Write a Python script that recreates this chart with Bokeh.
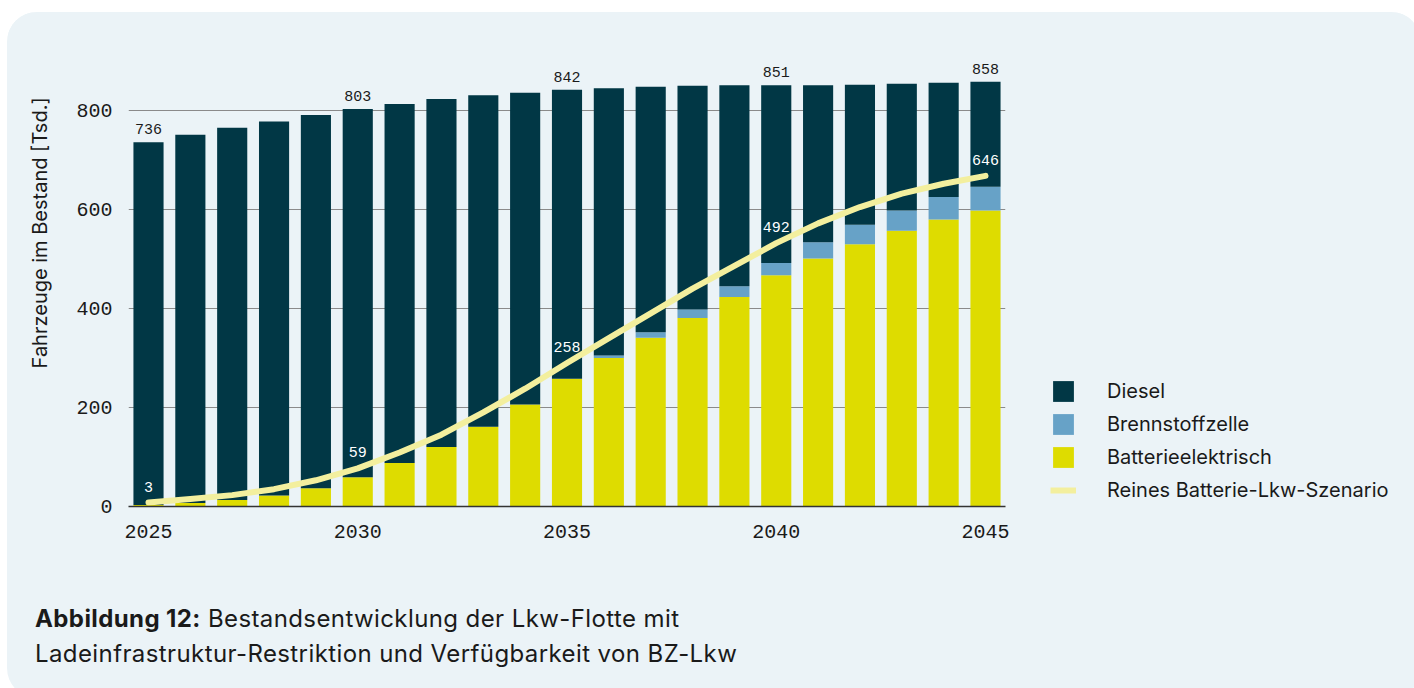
from bokeh.plotting import figure
from bokeh.models import (ColumnDataSource, FixedTicker, Legend, LegendItem, Div)
from bokeh.layouts import column, row
from bokeh.core.properties import value
from bokeh.embed import file_html
from bokeh.resources import INLINE

# ---------------- data ----------------
years = list(range(2025, 2046))
total = [736, 751, 765, 778, 791, 803, 813, 823, 831, 836, 842,
         845, 848, 850, 851, 851, 851, 852, 854, 856, 858]
battery = [3, 7, 13, 22, 37, 59, 88, 120, 161, 206, 258,
           300, 341, 381, 423, 467, 501, 530, 557, 580, 598]
fuelcell = [0, 0, 0, 0, 0, 0, 0, 0, 0, 0, 0,
            5, 11, 17, 22, 25, 33, 39, 41, 45, 48]
pure_battery = [8, 15, 23, 35, 53, 77, 109, 145, 190, 238, 290,
                340, 390, 440, 486, 532, 572, 605, 632, 652, 668]
label_years = [2025, 2030, 2035, 2040, 2045]
y_ticks = [0, 200, 400, 600, 800]

series_names = ["Batterieelektrisch", "Brennstoffzelle", "Diesel"]
line_name = "Reines Batterie-Lkw-Szenario"
y_axis_title = "Fahrzeuge im Bestand [Tsd.]"
caption_bold = "Abbildung 12:"
caption_line1 = "Bestandsentwicklung der Lkw-Flotte mit"
caption_line2 = "Ladeinfrastruktur-Restriktion und Verfügbarkeit von BZ-Lkw"

# ---------------- styles ----------------
BG = "#EBF3F7"
C_DIESEL = "#013745"
C_FC = "#67A2C7"
C_BAT = "#DEDC00"
C_LINE = "#F3EF9E"
TXT = "#1a1a1a"
SANS = "Inter"
MONO = "Liberation Mono"
COLORS = {"Batterieelektrisch": C_BAT, "Brennstoffzelle": C_FC, "Diesel": C_DIESEL}

diesel = [t - b - f for t, b, f in zip(total, battery, fuelcell)]
src = ColumnDataSource(dict(year=years, Batterieelektrisch=battery,
                            Brennstoffzelle=fuelcell, Diesel=diesel,
                            line=pure_battery))

# ---------------- main chart ----------------
p = figure(frame_width=877, frame_height=446,
           x_range=(2024.522, 2045.478), y_range=(0, 901),
           output_backend="svg", toolbar_location=None,
           min_border_left=121, min_border_right=30, min_border_top=48,
           min_border_bottom=66)
p.background_fill_color = BG
p.border_fill_color = BG
p.outline_line_color = None

p.vbar_stack(series_names, x="year", width=0.72, source=src,
             color=[COLORS[n] for n in series_names], line_color=None)
p.line("year", "line", source=src, line_color=C_LINE, line_width=6,
       line_cap="round", line_join="round")

# labels: totals (black) and alternative drives (white)
idx = [years.index(y) for y in label_years]
tot_src = ColumnDataSource(dict(x=label_years, y=[total[i] for i in idx],
                                t=[str(total[i]) for i in idx]))
p.text("x", "y", text="t", source=tot_src, text_align="center",
       text_baseline="alphabetic", y_offset=-13, text_color=TXT,
       text_font=value(MONO), text_font_size="15px")
alt_src = ColumnDataSource(dict(x=label_years, y=[pure_battery[i] for i in idx],
                                t=[str(battery[i] + fuelcell[i]) for i in idx]))
p.text("x", "y", text="t", source=alt_src, text_align="center",
       text_baseline="alphabetic", y_offset=-16, text_color="white",
       text_font=value(MONO), text_font_size="15px")

# axes
p.xaxis.ticker = FixedTicker(ticks=label_years)
p.yaxis.ticker = FixedTicker(ticks=y_ticks)
p.xgrid.grid_line_color = None
p.ygrid.grid_line_color = "#8a8a8a"
p.ygrid.grid_line_width = 1
for ax in (p.xaxis, p.yaxis):
    ax.major_tick_line_color = None
    ax.minor_tick_line_color = None
    ax.major_label_text_font = MONO
    ax.major_label_text_font_size = "20px"
    ax.major_label_text_color = TXT
p.xaxis.axis_line_color = "#333333"
p.xaxis.axis_line_width = 1.5
p.xaxis.major_label_standoff = 12
p.yaxis.axis_line_color = None
p.yaxis.major_label_standoff = 10
# leading non-breaking spaces lift the visible title like in the original
p.yaxis.axis_label = "\u00a0" * 18 + y_axis_title
p.yaxis.axis_label_text_font = SANS
p.yaxis.axis_label_text_font_style = "normal"
p.yaxis.axis_label_text_font_size = "20px"
p.yaxis.axis_label_text_color = TXT
p.yaxis.axis_label_standoff = 21

# ---------------- legend panel (separate small figure) ----------------
# The same series are drawn here outside the visible range, only so that
# the legend has glyphs to show.
lf = figure(width=376, height=560, x_axis_type=None, y_axis_type=None,
            output_backend="svg", toolbar_location=None,
            min_border=0, x_range=(0, 1), y_range=(0, 1))
lf.background_fill_color = BG
lf.border_fill_color = BG
lf.outline_line_color = None
lf.grid.visible = False
leg_items = []
for name in ["Diesel", "Brennstoffzelle", "Batterieelektrisch"]:
    r = lf.vbar(x="year", top=name, width=0.72, source=src,
                color=COLORS[name], line_color=None)
    leg_items.append(LegendItem(label=name, renderers=[r]))
rl = lf.line(x="year", y="line", source=src, line_color=C_LINE, line_width=6)
leg_items.append(LegendItem(label=line_name, renderers=[rl]))

legend = Legend(items=leg_items, location=(15, 3), orientation="vertical")
legend.glyph_width = 26
legend.glyph_height = 26
legend.label_height = 26
legend.spacing = 7
legend.padding = 0
legend.margin = 0
legend.label_standoff = 31
legend.label_text_font = SANS
legend.label_text_font_size = "20px"
legend.label_text_color = TXT
legend.border_line_color = None
legend.background_fill_alpha = 0
lf.add_layout(legend)

# ---------------- caption ----------------
cap = Div(text=f"<b>{caption_bold}</b> {caption_line1}<br>{caption_line2}",
          width=1404, height=116,
          styles={"font-family": "Inter, sans-serif", "font-size": "24px",
                  "letter-spacing": "0.4px",
                  "line-height": "35px", "color": TXT,
                  "padding-left": "23px", "padding-top": "24px",
                  "box-sizing": "border-box"})

layout = column(row(p, lf, spacing=0), cap, spacing=0,
                styles={"background-color": BG, "border-radius": "30px",
                        "overflow": "hidden"})
layout.margin = (12, 0, 0, 7)

open("out.html", "w").write(file_html(layout, INLINE))
